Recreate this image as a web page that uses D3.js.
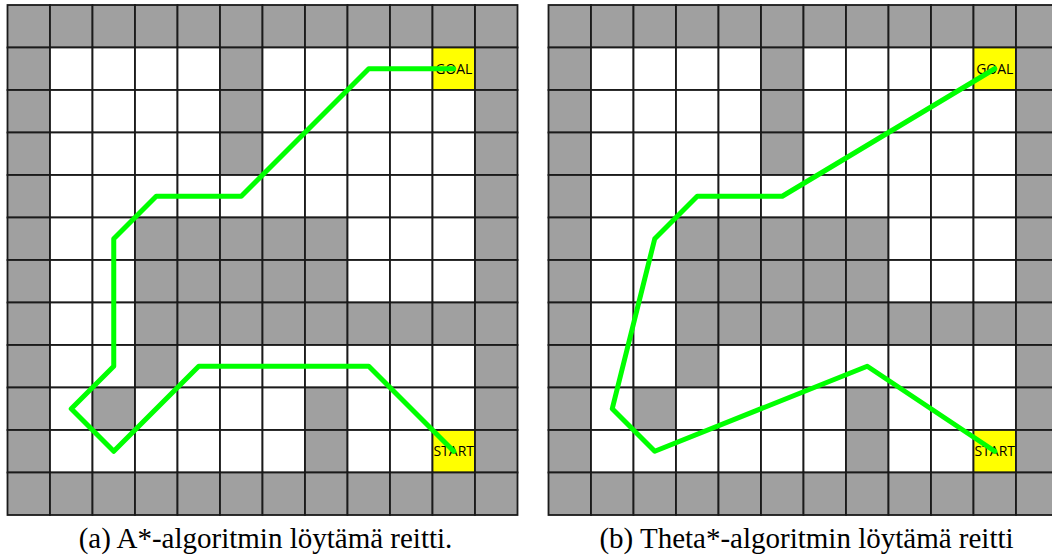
<!DOCTYPE html>
<html>
<head>
<meta charset="utf-8">
<script src="https://cdn.jsdelivr.net/npm/d3@7"></script>
<style>
html,body{margin:0;padding:0;background:#fff;}
svg{display:block;}
</style>
</head>
<body>
<svg id="chart" width="1052" height="556"></svg>
<script>
// Grid map: 12 x 12, 1 = obstacle (gray), 0 = free
const gridMap = [
  "111111111111",
  "100001000001",
  "100001000001",
  "100001000001",
  "100000000001",
  "100111110001",
  "100111110001",
  "100111111111",
  "100100000001",
  "101000010001",
  "100000010001",
  "111111111111"
];
const goalCell = [10, 1];
const startCell = [10, 10];
const goalLabel = "GOAL";
const startLabel = "START";
// paths in cell coordinates [col, row]
const astarPath = [[10,1],[8,1],[5,4],[3,4],[2,5],[2,8],[1,9],[2,10],[4,8],[8,8],[10,10]];
const thetaPath = [[10,1],[5,4],[3,4],[2,5],[1,9],[2,10],[7,8],[10,10]];
const captions = ["(a) A*-algoritmin löytämä reitti.", "(b) Theta*-algoritmin löytämä reitti"];

const svg = d3.select("#chart");
const N = 12, size = 510;
const panels = [
  {x0: 7.5, path: astarPath, caption: captions[0]},
  {x0: 548.5, path: thetaPath, caption: captions[1]}
];
const y0 = 5;

panels.forEach(p => {
  const x = d3.scaleLinear().domain([0, N]).range([p.x0, p.x0 + size]);
  const y = d3.scaleLinear().domain([0, N]).range([y0, y0 + size]);
  const g = svg.append("g");
  const cells = [];
  gridMap.forEach((row, r) => row.split("").forEach((v, c) => {
    let type = v === "1" ? "wall" : "free";
    if (c === goalCell[0] && r === goalCell[1]) type = "goal";
    if (c === startCell[0] && r === startCell[1]) type = "start";
    cells.push({r, c, type});
  }));
  const color = {wall: "#a0a0a0", free: "#ffffff", goal: "#ffff00", start: "#ffff00"};
  g.selectAll("rect.cell").data(cells).join("rect")
    .attr("class", "cell")
    .attr("x", d => x(d.c)).attr("y", d => y(d.r))
    .attr("width", x(1) - x(0)).attr("height", y(1) - y(0))
    .attr("fill", d => color[d.type])
    .attr("stroke", "#1a1a1a").attr("stroke-width", 1.8);

  // labels
  const labels = [{cell: goalCell, text: goalLabel}, {cell: startCell, text: startLabel}];
  g.selectAll("text.lab").data(labels).join("text")
    .attr("class", "lab")
    .attr("x", d => x(d.cell[0] + 0.5)).attr("y", d => y(d.cell[1] + 0.5))
    .attr("text-anchor", "middle").attr("dy", "0.36em")
    .attr("font-family", "Open Sans, sans-serif").attr("font-size", 14)
    .attr("fill", "#000")
    .text(d => d.text);

  const line = d3.line().x(d => x(d[0] + 0.5)).y(d => y(d[1] + 0.5));
  g.append("path").attr("d", line(p.path))
    .attr("fill", "none").attr("stroke", "#00ff00")
    .attr("stroke-width", 5).attr("stroke-linejoin", "round").attr("stroke-linecap", "round");

  svg.append("text")
    .attr("x", p.x0 + size / 2 + 3).attr("y", 548)
    .attr("text-anchor", "middle")
    .attr("font-family", "Liberation Serif, serif").attr("font-size", 29)
    .attr("fill", "#000")
    .text(p.caption);
});
</script>
</body>
</html>
